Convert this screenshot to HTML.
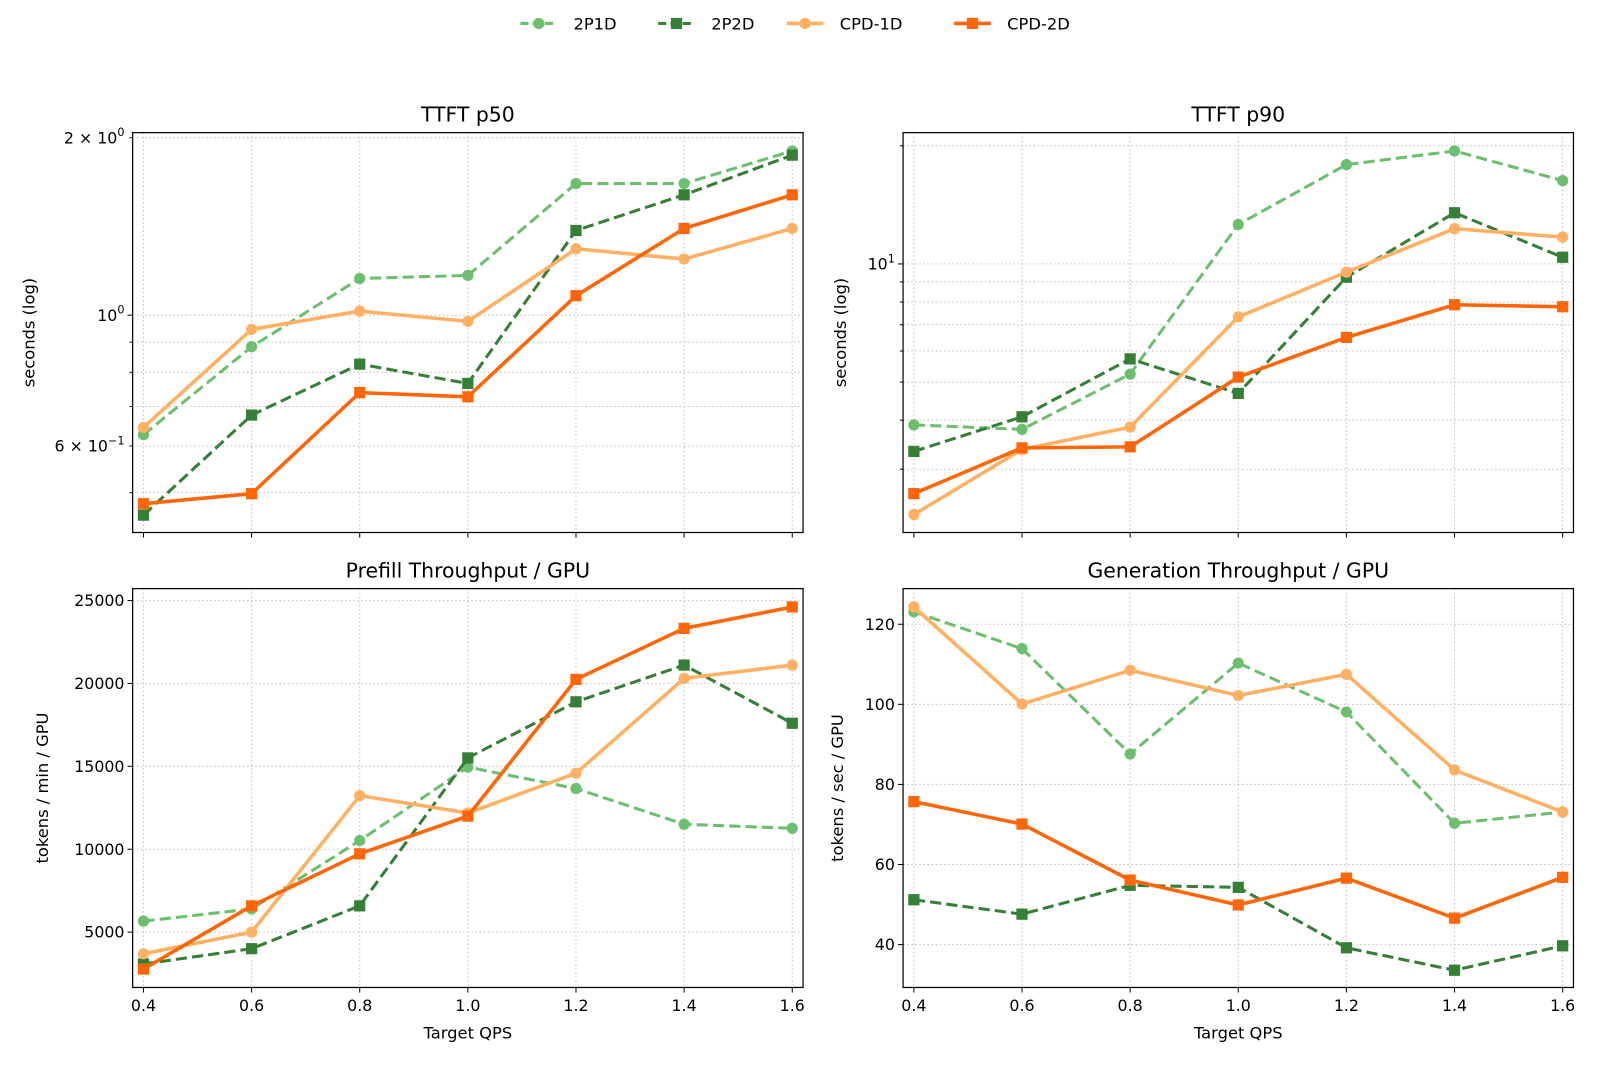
<!DOCTYPE html>
<html><head><meta charset="utf-8"><style>
html,body{margin:0;padding:0;background:#fff;}
svg{display:block;font-family:"DejaVu Sans","Liberation Sans",sans-serif;}
</style></head><body>
<svg id="fig" width="1600" height="1066" viewBox="0 0 1568 1045" preserveAspectRatio="none" xmlns="http://www.w3.org/2000/svg"></svg>
<script>
const qps = [0.4,0.6,0.8,1.0,1.2,1.4,1.6];
const seriesNames = ["2P1D","2P2D","CPD-1D","CPD-2D"];
const ttft50_2P1D = [0.627,0.884,1.154,1.168,1.672,1.672,1.899];
const ttft50_2P2D = [0.458,0.677,0.826,0.766,1.392,1.600,1.868];
const ttft50_CPD1D = [0.645,0.946,1.016,0.976,1.296,1.245,1.403];
const ttft50_CPD2D = [0.479,0.498,0.739,0.727,1.079,1.403,1.600];
const ttft90_2P1D = [3.89,3.79,5.24,12.6,17.9,19.4,16.3];
const ttft90_2P2D = [3.33,4.08,5.73,4.68,9.25,13.5,10.4];
const ttft90_CPD1D = [2.30,3.37,3.84,7.33,9.53,12.3,11.7];
const ttft90_CPD2D = [2.60,3.40,3.42,5.15,6.50,7.87,7.78];
const prefill_2P1D = [5662,6400,10523,14954,13662,11508,11262];
const prefill_2P2D = [3077,4000,6585,15508,18892,21108,17600];
const prefill_CPD1D = [3692,5000,13231,12185,14585,20308,21108];
const prefill_CPD2D = [2769,6585,9723,12000,20246,23323,24615];
const gen_2P1D = [123.1,113.9,87.6,110.3,98.1,70.3,73.1];
const gen_2P2D = [51.2,47.6,54.8,54.3,39.2,33.6,39.7];
const gen_CPD1D = [124.3,100.1,108.5,102.2,107.5,83.6,73.1];
const gen_CPD2D = [75.7,70.1,56.1,49.9,56.6,46.6,56.8];
const xTicks = [0.4,0.6,0.8,1.0,1.2,1.4,1.6];
const prefillTicks = [5000,10000,15000,20000,25000];
const genTicks = [40,60,80,100,120];

const NS="http://www.w3.org/2000/svg";
const svg=document.getElementById('fig');
function mk(tag,attrs,parent){const e=document.createElementNS(NS,tag);for(const k in attrs)e.setAttribute(k,attrs[k]);(parent||svg).appendChild(e);return e;}
const styles=[
 {c:"#6dbf6f",dash:"11,5",w:3,m:"circle"},
 {c:"#357f37",dash:"11,5",w:3,m:"square"},
 {c:"#ffb063",dash:"",w:3.5,m:"circle"},
 {c:"#ff6608",dash:"",w:3.5,m:"square"}];

function marker(g,type,x,y,c){
  let e;
  if(type==="circle"){e=mk('circle',{cx:x,cy:y,r:5.5,fill:c},g);}
  else{e=mk('rect',{x:x-5.5,y:y-5.5,width:11,height:11,fill:c},g);}
  
  
}

function panel(o){
  const g=mk('g',{});
  
  
  const X0=o.x,X1=o.x+657,Y0=o.y,Y1=o.y+o.h;
  const xs=v=>X0+(v-0.38)/(1.24)*657;
  const ys=o.log? v=>Y1-(Math.log10(v)-Math.log10(o.ymin))/(Math.log10(o.ymax)-Math.log10(o.ymin))*o.h
                : v=>Y1-(v-o.ymin)/(o.ymax-o.ymin)*o.h;
  xTicks.forEach(t=>{const l=mk('line',{x1:xs(t),x2:xs(t),y1:Y0,y2:Y1,stroke:"#c0c0c0","stroke-width":1,"stroke-dasharray":"1.5,2.5"},g);
    
    const tk=mk('line',{x1:xs(t),x2:xs(t),y1:Y1,y2:Y1+5,stroke:"#000","stroke-width":1},g);
    
    if(o.xlabels){const tx=mk('text',{x:xs(t),y:Y1+23,"font-size":15.5,"text-anchor":"middle",fill:"#000"},g);tx.textContent=t.toFixed(1);
      }
  });
  o.grid.forEach(t=>{const l=mk('line',{x1:X0,x2:X1,y1:ys(t),y2:ys(t),stroke:"#c0c0c0","stroke-width":1,"stroke-dasharray":"1.5,2.5"},g);
    
    const tk=mk('line',{x1:X0-(o.major.includes(t)?5:3),x2:X0,y1:ys(t),y2:ys(t),stroke:"#000","stroke-width":1},g);
    });
  o.labels.forEach(([t,html])=>{const tx=mk('text',{x:X0-8,y:ys(t)+5.5,"font-size":15.5,"text-anchor":"end",fill:"#000"},g);tx.innerHTML=html;
    });
  o.data.forEach((d,i)=>{const s=styles[i];const sg=mk('g',{},g);
    
    mk('polyline',{points:d.map((v,j)=>xs(qps[j])+","+ys(v)).join(" "),fill:"none",stroke:s.c,"stroke-width":s.w,"stroke-dasharray":s.dash,"stroke-linejoin":"round"},sg);
    d.forEach((v,j)=>marker(sg,s.m,xs(qps[j]),ys(v),s.c));});
  const fr=mk('rect',{x:X0,y:Y0,width:657,height:o.h,fill:"none",stroke:"#000","stroke-width":1.2},g);
  
  const ti=mk('text',{x:(X0+X1)/2,y:Y0-11,"font-size":20,"text-anchor":"middle",fill:"#000"},g);ti.textContent=o.title;
  
  const yl=mk('text',{x:0,y:0,"font-size":16,"text-anchor":"middle",fill:"#000",transform:`translate(${o.ylx},${(Y0+Y1)/2}) rotate(-90)`},g);yl.textContent=o.ylabel;
  
  if(o.xlabels){const xl=mk('text',{x:(X0+X1)/2,y:Y1+50,"font-size":16,"text-anchor":"middle",fill:"#000"},g);xl.textContent="Target QPS";
    }
}
const sup=(a,b)=>`${a}<tspan dy="-7" font-size="11">${b}</tspan>`;
panel({name:"ttft-p50-panel",title:"TTFT p50",x:130,y:130,h:392,log:true,ymin:0.428,ymax:2.04,
  grid:[0.5,0.6,0.7,0.8,0.9,1,2],major:[1],labels:[[2,sup("2 × 10","0")],[1,sup("10","0")],[0.6,sup("6 × 10","−1")]],
  data:[ttft50_2P1D,ttft50_2P2D,ttft50_CPD1D,ttft50_CPD2D],ylabel:"seconds (log)",ylx:34,xlabels:false});
panel({name:"ttft-p90-panel",title:"TTFT p90",x:885,y:130,h:392,log:true,ymin:2.07,ymax:21.6,
  grid:[3,4,5,6,7,8,9,10,20],major:[10],labels:[[10,sup("10","1")]],
  data:[ttft90_2P1D,ttft90_2P2D,ttft90_CPD1D,ttft90_CPD2D],ylabel:"seconds (log)",ylx:829,xlabels:false});
panel({name:"prefill-throughput-panel",title:"Prefill Throughput / GPU",x:130,y:577,h:391,log:false,ymin:1662,ymax:25723,
  grid:prefillTicks,major:prefillTicks,labels:prefillTicks.map(t=>[t,String(t)]),
  data:[prefill_2P1D,prefill_2P2D,prefill_CPD1D,prefill_CPD2D],ylabel:"tokens / min / GPU",ylx:47,xlabels:true});
panel({name:"generation-throughput-panel",title:"Generation Throughput / GPU",x:885,y:577,h:391,log:false,ymin:29.3,ymax:128.9,
  grid:genTicks,major:genTicks,labels:genTicks.map(t=>[t,String(t)]),
  data:[gen_2P1D,gen_2P2D,gen_CPD1D,gen_CPD2D],ylabel:"tokens / sec / GPU",ylx:826,xlabels:true});
const lg=mk('g',{});


const lx=[510,645,771,935];
seriesNames.forEach((n,i)=>{const s=styles[i];const eg=mk('g',{},lg);
  
  mk('line',{x1:lx[i],x2:lx[i]+36,y1:23,y2:23,stroke:s.c,"stroke-width":s.w,"stroke-dasharray":s.dash?"8,4":""},eg);
  marker(eg,s.m,lx[i]+18,23,s.c);
  const t=mk('text',{x:lx[i]+52,y:29,"font-size":16,fill:"#000"},eg);t.textContent=n;});
</script>
</body></html>
